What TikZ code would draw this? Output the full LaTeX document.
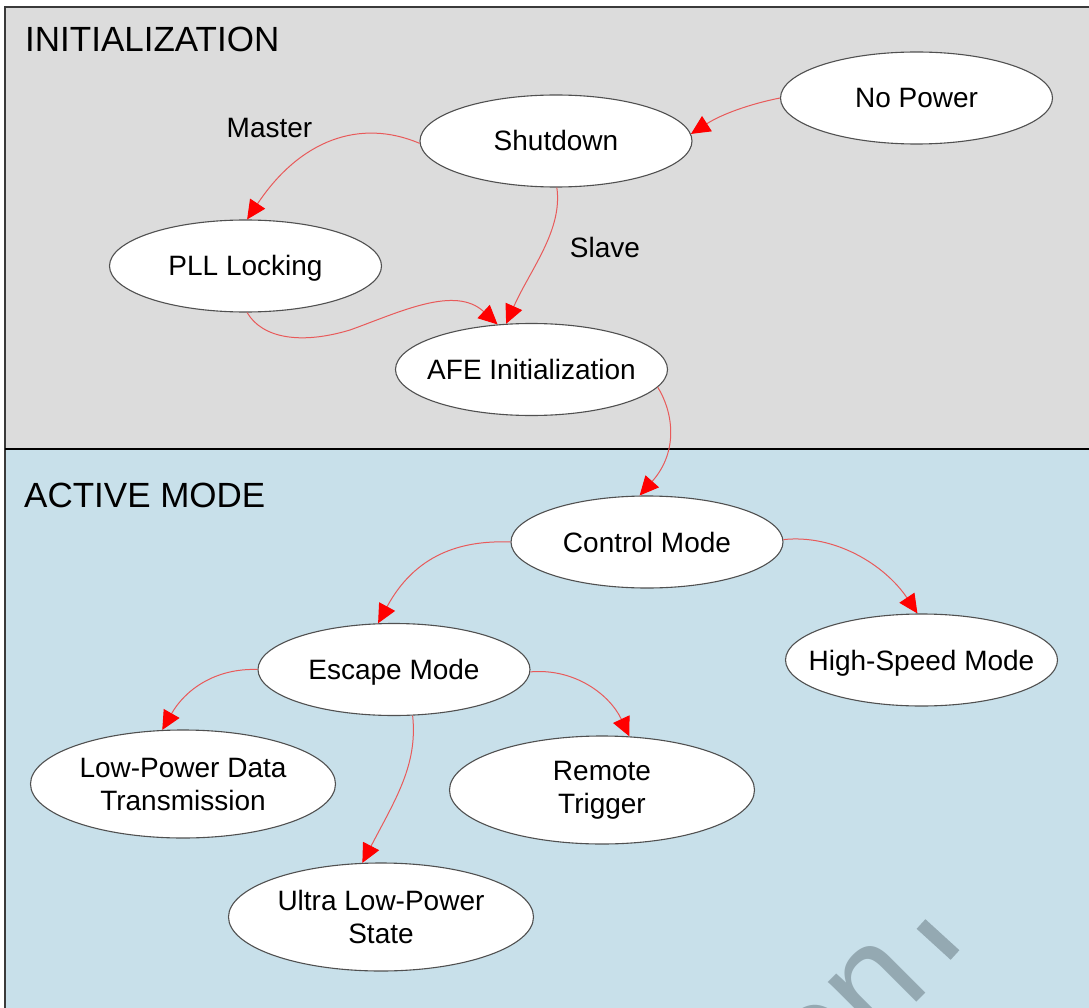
\documentclass[tikz,border=0pt]{standalone}
\usepackage{fontspec}
\setmainfont{Liberation Sans}
\usetikzlibrary{arrows.meta,shapes.geometric}
\definecolor{initbg}{HTML}{DCDCDC}
\definecolor{activebg}{HTML}{C8E0EA}
\definecolor{framec}{HTML}{3A3A3A}
\definecolor{edgec}{HTML}{E85A5A}
\definecolor{tipc}{HTML}{FF0000}
\definecolor{ringc}{HTML}{505050}
\definecolor{markc}{HTML}{94A9B2}

\begin{document}
\begin{tikzpicture}[x=1pt,y=-1pt,
  state/.style={ellipse, draw=ringc, line width=1.1pt, fill=white, inner sep=0pt,
    minimum width=272pt, minimum height=92pt},
  widestate/.style={state, minimum width=305pt, minimum height=108pt},
  stxt/.style={font=\fontsize{28}{33}\selectfont, inner sep=0pt, text height=20pt, text depth=0pt},
  mtxt/.style={font=\fontsize{28}{33}\selectfont, inner sep=0pt, align=center},
  edge/.style={draw=edgec, line width=1pt,
    -{Triangle[length=19pt, width=18pt, color=tipc, fill=tipc]}},
  title/.style={font=\fontsize{35}{40}\selectfont, inner sep=0pt, anchor=base west},
  cond/.style={font=\fontsize{28}{33}\selectfont, inner sep=0pt, anchor=base}]

% page and the two mode regions
\clip (0,0) rectangle (1089,1008);
\fill[white] (0,0) rectangle (1089,1008);
\fill[initbg] (5,7) rectangle (1089,449);
\fill[activebg] (5,449) rectangle (1089,1008);
\draw[framec, line width=2.5pt] (5,1008) -- (5,7) -- (1089,7);
\draw[black, line width=2.5pt] (5,449) -- (1089,449);

\node[title] (tinit) at (25,52) {INITIALIZATION};
\node[title] (tact) at (24,507) {ACTIVE MODE};

% faint watermark in the lower right corner
\node[markc, rotate=45, anchor=base east, inner sep=0pt,
  font=\fontsize{145}{145}\selectfont] (wm) at (933,986) {on};
\draw[markc, line width=13pt] (955,955) -- (921,924);

% states
\node[state, label={[stxt]center:No Power}] (nopower) at (916.5,98) {};
\node[state, label={[stxt]center:Shutdown}] (shut) at (556,141) {};
\node[state, label={[stxt]center:PLL Locking}] (pll) at (245.5,266) {};
\node[state, label={[stxt]center:AFE Initialization}] (afe) at (531.5,369.5) {};
\node[state, label={[stxt]center:Control Mode}] (ctrl) at (647,542) {};
\node[state, label={[stxt]center:High-Speed Mode}] (hs) at (921.5,660) {};
\node[state, label={[stxt]center:Escape Mode}] (esc) at (394,669.5) {};
\node[widestate, label={[mtxt]center:Low-Power Data\\Transmission}] (lpdt) at (183,784) {};
\node[widestate, label={[mtxt]center:Remote\\Trigger}] (rt) at (602,790) {};
\node[widestate, label={[mtxt]center:Ultra Low-Power\\State}] (ulp) at (381,917) {};

% edge conditions
\node[cond] (lmaster) at (269.5,138) {Master};
\node[cond] (lslave) at (605,258) {Slave};

% transitions
\draw[edge] (nopower.180) .. controls (750,104) and (722,114) .. (shut.3);
\draw[edge] (shut.181) .. controls (360,118) and (300,140) .. (pll.88);
\draw[edge] (shut.-89) .. controls (563,230) and (530,270) .. (afe.119);
\draw[edge] (pll.-88) .. controls (262,338) and (300,345) .. (350,330)
  .. controls (400,312) and (455,285) .. (afe.127);
\draw[edge] (afe.-8) .. controls (672,410) and (680,450) .. (ctrl.99);
\draw[edge] (ctrl.180) .. controls (460,540) and (415,555) .. (esc.109);
\draw[edge] (ctrl.1) .. controls (835,534) and (885,565) .. (hs.95);
\draw[edge] (esc.180) .. controls (215,668) and (185,690) .. (lpdt.111);
\draw[edge] (esc.-1) .. controls (575,668) and (610,695) .. (rt.63);
\draw[edge] (esc.-68) .. controls (418,765) and (395,800) .. (ulp.109);

\end{tikzpicture}
\end{document}
